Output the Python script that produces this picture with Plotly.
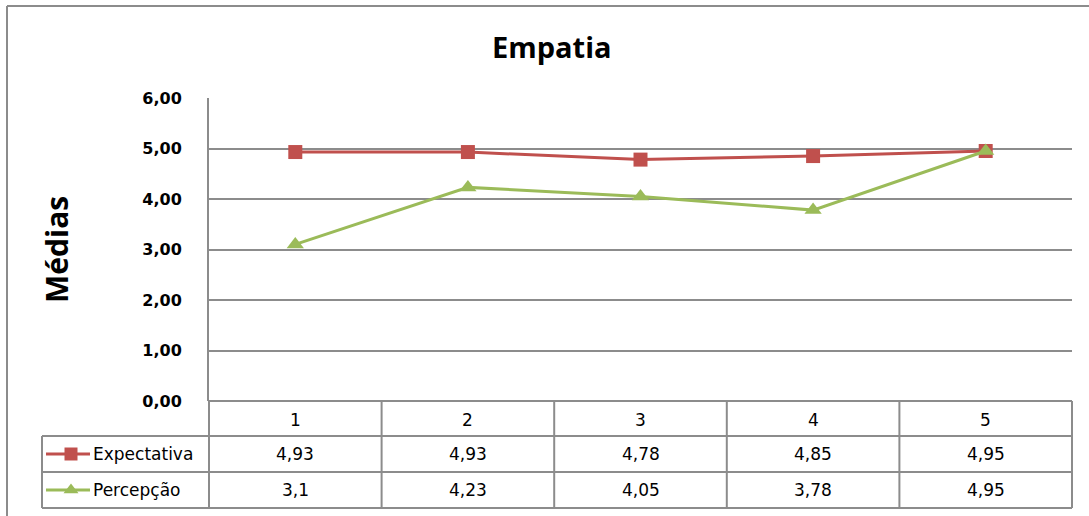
import plotly.graph_objects as go

# Chart data
categories = [1, 2, 3, 4, 5]
expectativa = [4.93, 4.93, 4.78, 4.85, 4.95]
percepcao = [3.1, 4.23, 4.05, 3.78, 4.95]
y_ticks = [0, 1, 2, 3, 4, 5, 6]
series_names = ["Expectativa", "Percepção"]

RED = "#C0504D"
GREEN = "#9BBB59"
GRID = "#8C8C8C"
FONT = "Open Sans"
TABLE_FONT = "DejaVu Sans"

W, H = 1089, 516
# plot area in pixels
PX0, PX1 = 209, 1072
PY0, PY1 = 98, 401

# data-table geometry (pixels)
col_w = (PX1 - PX0) / len(categories)
row_tops = [401, 436, 472, 508]
key_left = 42


def fmt(v):
    return f"{v:g}".replace(".", ",")


fig = go.Figure()

# main series
fig.add_trace(go.Scatter(
    x=categories, y=expectativa, mode="lines+markers", name=series_names[0],
    line=dict(color=RED, width=3), marker=dict(symbol="square", size=14, color=RED),
    xaxis="x", yaxis="y", showlegend=False))
fig.add_trace(go.Scatter(
    x=categories, y=percepcao, mode="lines+markers", name=series_names[1],
    line=dict(color=GREEN, width=3), marker=dict(symbol="triangle-up", size=15, color=GREEN),
    xaxis="x", yaxis="y", showlegend=False))

# legend keys inside the data table (pixel overlay axes)
for i, (name, color, sym) in enumerate(zip(series_names, [RED, GREEN], ["square", "triangle-up"])):
    yc = (row_tops[i + 1] + row_tops[i + 2]) / 2
    fig.add_trace(go.Scatter(
        x=[46, 90], y=[yc, yc], mode="lines", line=dict(color=color, width=3),
        xaxis="x2", yaxis="y2", showlegend=False, hoverinfo="skip"))
    fig.add_trace(go.Scatter(
        x=[71], y=[yc], mode="markers", marker=dict(symbol=sym, size=13, color=color),
        xaxis="x2", yaxis="y2", showlegend=False, hoverinfo="skip"))

shapes = []
line_style = dict(color=GRID, width=2)
# outer chart border (left and top visible)
shapes.append(dict(type="line", xref="x2", yref="y2", x0=7, x1=W, y0=6, y1=6, line=line_style))
shapes.append(dict(type="line", xref="x2", yref="y2", x0=7, x1=7, y0=6, y1=H, line=line_style))

# table horizontal rules
shapes.append(dict(type="line", xref="x2", yref="y2", x0=PX0, x1=PX1, y0=row_tops[0], y1=row_tops[0], line=line_style))
for yy in row_tops[1:]:
    shapes.append(dict(type="line", xref="x2", yref="y2", x0=key_left, x1=PX1, y0=yy, y1=yy, line=line_style))
# table vertical rules
shapes.append(dict(type="line", xref="x2", yref="y2", x0=key_left, x1=key_left, y0=row_tops[1], y1=row_tops[3], line=line_style))
for k in range(len(categories) + 1):
    xx = PX0 + k * col_w
    shapes.append(dict(type="line", xref="x2", yref="y2", x0=xx, x1=xx, y0=row_tops[0], y1=row_tops[3], line=line_style))

annotations = []
cell_font = dict(family=TABLE_FONT, size=17, color="#000000")
for k, cat in enumerate(categories):
    xc = PX0 + (k + 0.5) * col_w
    annotations.append(dict(xref="x2", yref="y2", x=xc, y=(row_tops[0] + row_tops[1]) / 2 + 1,
                            text=str(cat), showarrow=False, font=cell_font))
    for r, vals in enumerate([expectativa, percepcao]):
        annotations.append(dict(xref="x2", yref="y2", x=xc, y=(row_tops[r + 1] + row_tops[r + 2]) / 2,
                                text=fmt(vals[k]), showarrow=False, font=cell_font))
for r, name in enumerate(series_names):
    annotations.append(dict(xref="x2", yref="y2", x=91, y=(row_tops[r + 1] + row_tops[r + 2]) / 2,
                            text=name, showarrow=False, xanchor="left", font=cell_font))

# title and y-axis title
annotations.append(dict(xref="x2", yref="y2", x=552, y=46, text="<b>Empatia</b>", showarrow=False,
                        font=dict(family=FONT, size=29, color="#000000")))
annotations.append(dict(xref="x2", yref="y2", x=56, y=250, text="<b>Médias</b>", showarrow=False,
                        textangle=-90, font=dict(family=FONT, size=30, color="#000000")))

fig.update_layout(
    width=W, height=H,
    margin=dict(l=0, r=0, t=0, b=0),
    paper_bgcolor="white", plot_bgcolor="rgba(0,0,0,0)",
    separators=",.",
    xaxis=dict(domain=[PX0 / W, PX1 / W], range=[0.5, 5.5], showticklabels=False,
               showgrid=False, zeroline=False, showline=False, fixedrange=True),
    yaxis=dict(domain=[(H - PY1) / H, (H - PY0) / H], range=[0, 6], tickvals=y_ticks,
               tickformat=".2f", showgrid=True, gridcolor=GRID, gridwidth=2,
               zeroline=False, showline=True, linecolor=GRID, linewidth=2,
               ticks="", ticklabelstandoff=22, automargin=False,
               tickfont=dict(family=TABLE_FONT, size=16, color="#000000", weight="bold")),
    xaxis2=dict(domain=[0, 1], range=[0, W], visible=False, fixedrange=True),
    yaxis2=dict(domain=[0, 1], range=[H, 0], visible=False, anchor="x2", fixedrange=True),
    shapes=shapes, annotations=annotations,
)

fig.write_html("out.html")
